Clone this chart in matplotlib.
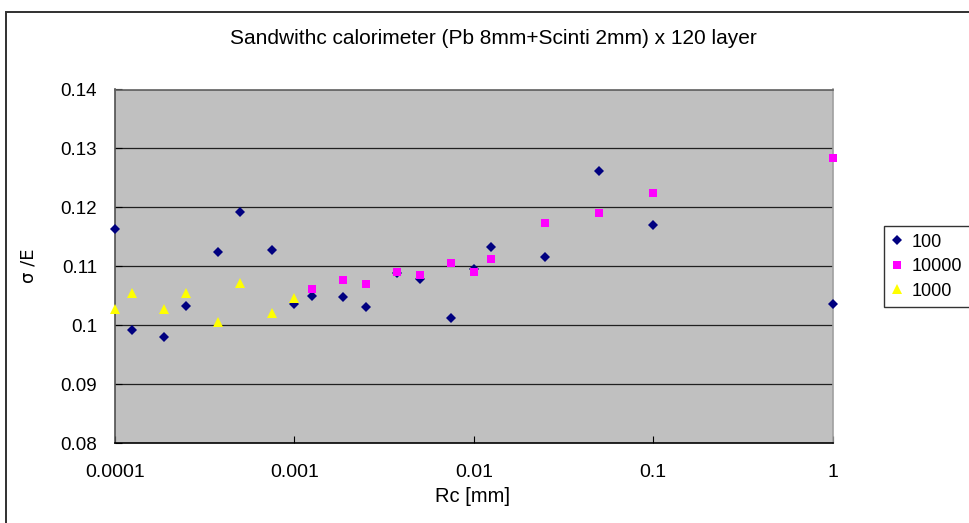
import matplotlib
matplotlib.use("Agg")
import matplotlib.pyplot as plt
from matplotlib.patches import Rectangle

title = "Sandwithc calorimeter (Pb 8mm+Scinti 2mm) x 120 layer"
xlabel = "Rc [mm]"
ylabel = "σ /E"
xticks = [0.0001, 0.001, 0.01, 0.1, 1]
xtick_labels = ["0.0001", "0.001", "0.01", "0.1", "1"]
yticks = [0.08, 0.09, 0.10, 0.11, 0.12, 0.13, 0.14]
ytick_labels = ["0.08", "0.09", "0.1", "0.11", "0.12", "0.13", "0.14"]

rc_100 = [1e-4, 1.25e-4, 1.875e-4, 2.5e-4, 3.75e-4, 5e-4, 7.5e-4, 1e-3, 1.25e-3,
          1.875e-3, 2.5e-3, 3.75e-3, 5e-3, 7.5e-3, 1e-2, 1.25e-2, 2.5e-2, 5e-2, 0.1, 1]
res_100 = [0.1164, 0.0992, 0.0980, 0.1032, 0.1124, 0.1192, 0.1127, 0.1036, 0.1049,
           0.1047, 0.1031, 0.1088, 0.1078, 0.1012, 0.1095, 0.1132, 0.1115, 0.1262, 0.1170, 0.1036]

rc_10000 = [1.25e-3, 1.875e-3, 2.5e-3, 3.75e-3, 5e-3, 7.5e-3, 1e-2, 1.25e-2, 2.5e-2, 5e-2, 0.1, 1]
res_10000 = [0.1062, 0.1076, 0.1070, 0.1090, 0.1085, 0.1105, 0.1090, 0.1112, 0.1173, 0.1190, 0.1225, 0.1284]

rc_1000 = [1e-4, 1.25e-4, 1.875e-4, 2.5e-4, 3.75e-4, 5e-4, 7.5e-4, 1e-3]
res_1000 = [0.1027, 0.1055, 0.1027, 0.1055, 0.1006, 0.1072, 0.1020, 0.1046]

W, H = 970, 523
fig = plt.figure(figsize=(W / 100, H / 100), dpi=100)
fig.patch.set_facecolor("white")

# outer chart border
fig.add_artist(Rectangle((6.5 / W, -0.05), 1.2, 1 - 11.5 / H + 0.05,
                         transform=fig.transFigure, fill=False,
                         edgecolor="#303030", linewidth=1.4))

L, R, T, B = 115, 832.5, 89.5, 443
ax = fig.add_axes([L / W, 1 - B / H, (R - L) / W, (B - T) / H])
ax.set_facecolor("#C0C0C0")
ax.set_xscale("log")
ax.set_xlim(1e-4, 1)
ax.set_ylim(0.08, 0.14)

for y in yticks[1:]:
    ax.axhline(y, color="#202020", linewidth=0.9, zorder=1)

ax.plot(rc_100, res_100, linestyle="none", marker="D", markersize=5.2,
        color="#000080", markeredgewidth=0, label="100", zorder=3, clip_on=False)
ax.plot(rc_10000, res_10000, linestyle="none", marker="s", markersize=6.3,
        color="#FF00FF", markeredgewidth=0, label="10000", zorder=3, clip_on=False)
ax.plot(rc_1000, res_1000, linestyle="none", marker="^", markersize=7.5,
        color="#FFFF00", markeredgewidth=0, label="1000", zorder=3, clip_on=False)

ax.spines["left"].set_color("#505050")
ax.spines["bottom"].set_color("#000000")
ax.spines["right"].set_color("#A0A0A0")
ax.spines["top"].set_color("#606060")
for s in ax.spines.values():
    s.set_linewidth(1.2)

sans = ["Liberation Sans", "DejaVu Sans"]
ax.set_xticks(xticks)
ax.set_xticklabels(xtick_labels, family=sans, size=14)
ax.xaxis.set_minor_locator(matplotlib.ticker.NullLocator())
ax.set_yticks(yticks)
ax.set_yticklabels(ytick_labels, family=sans, size=13.5)
ax.tick_params(axis="x", direction="in", length=5, width=0.8, pad=15, colors="black")
ax.tick_params(axis="y", direction="in", length=5, width=0.8, pad=13, colors="black")

fig.text(493 / W, 1 - 38 / H, title, ha="center", va="center", fontsize=15,
         family=sans)
fig.text(473 / W, 1 - 497 / H, xlabel, ha="center", va="center", fontsize=14.5,
         family=sans)
fig.text(29 / W, 1 - 266 / H, ylabel, ha="center", va="center", fontsize=13,
         rotation=90, family=["DejaVu Sans"])

leg = fig.legend(loc="upper left", bbox_to_anchor=(884 / W, 1 - 226 / H),
                 bbox_transform=fig.transFigure, frameon=True, fancybox=False,
                 prop={"family": sans, "size": 13},
                 handlelength=0.6, handletextpad=0.5, borderpad=0.42,
                 labelspacing=0.42, borderaxespad=0, markerscale=1.0)
leg.get_frame().set_edgecolor("black")
leg.get_frame().set_linewidth(1.0)

fig.savefig("out.png", dpi=100, facecolor="white")
